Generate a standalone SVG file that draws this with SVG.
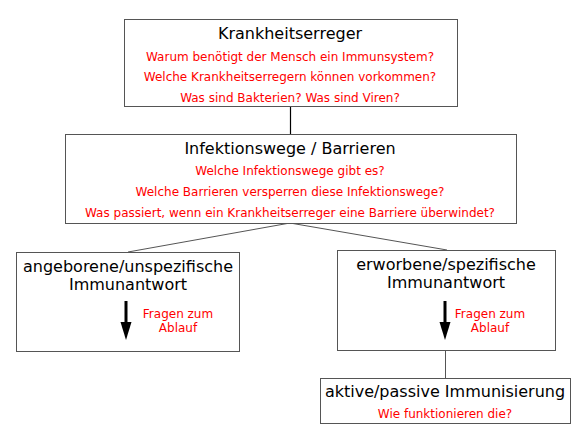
<svg xmlns="http://www.w3.org/2000/svg" width="584" height="447" viewBox="0 0 584 447">
<style>
.box{fill:#fff;stroke:#555;stroke-width:1}
.t{font-family:"DejaVu Sans",sans-serif;font-size:16px;fill:#000;text-anchor:middle}
.r{font-family:"DejaVu Sans",sans-serif;font-size:12px;fill:#f00;text-anchor:middle}
.c{stroke:#555;stroke-width:1;fill:none}
.sh{stroke:#000;stroke-width:3}
.hd{fill:#000}
</style>
<rect width="584" height="447" fill="#fff"/>
<g id="connectors">
<line x1="290.5" y1="106" x2="290.5" y2="134" stroke="#000" stroke-width="1.2"/>
<line class="c" x1="290" y1="223" x2="128" y2="252"/>
<line class="c" x1="290" y1="223" x2="447" y2="250"/>
<line class="c" x1="445.5" y1="350" x2="445.5" y2="378"/>
</g>
<g id="n1">
<rect class="box" x="124.5" y="19.5" width="333" height="87"/>
<text class="t" x="290" y="39">Krankheitserreger</text>
<text class="r" x="290" y="61">Warum benötigt der Mensch ein Immunsystem?</text>
<text class="r" x="290" y="81">Welche Krankheitserregern können vorkommen?</text>
<text class="r" x="290" y="102">Was sind Bakterien? Was sind Viren?</text>
</g>
<g id="n2">
<rect class="box" x="65.5" y="134.5" width="451" height="89"/>
<text class="t" x="290" y="154">Infektionswege / Barrieren</text>
<text class="r" x="290" y="175">Welche Infektionswege gibt es?</text>
<text class="r" x="290" y="196">Welche Barrieren versperren diese Infektionswege?</text>
<text class="r" x="290" y="217">Was passiert, wenn ein Krankheitserreger eine Barriere überwindet?</text>
</g>
<g id="n3">
<rect class="box" x="16.5" y="252.5" width="223" height="99"/>
<text class="t" x="128" y="272">angeborene/unspezifische</text>
<text class="t" x="128" y="290">Immunantwort</text>
<line class="sh" x1="126" y1="301" x2="126" y2="325"/>
<polygon class="hd" points="120.5,322 131.5,322 126,340"/>
<text class="r" x="178" y="318">Fragen zum</text>
<text class="r" x="178" y="332">Ablauf</text>
</g>
<g id="n4">
<rect class="box" x="337.5" y="250.5" width="218" height="100"/>
<text class="t" x="446" y="270">erworbene/spezifische</text>
<text class="t" x="446" y="288">Immunantwort</text>
<line class="sh" x1="445" y1="301" x2="445" y2="325"/>
<polygon class="hd" points="439.5,322 450.5,322 445,340"/>
<text class="r" x="490" y="318">Fragen zum</text>
<text class="r" x="490" y="332">Ablauf</text>
</g>
<g id="n5">
<rect class="box" x="320.5" y="378.5" width="250" height="45"/>
<text class="t" x="445" y="397">aktive/passive Immunisierung</text>
<text class="r" x="445" y="418">Wie funktionieren die?</text>
</g>
</svg>
